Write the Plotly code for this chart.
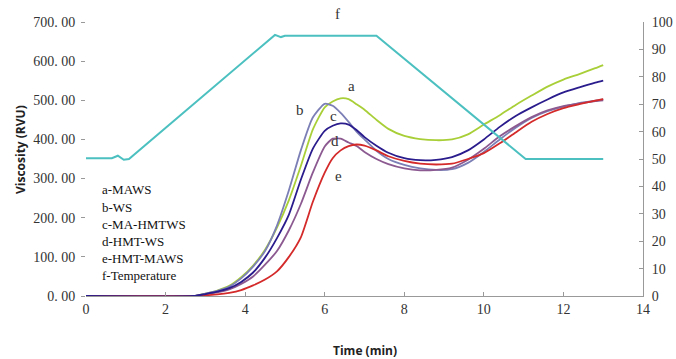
import plotly.graph_objects as go

# ---- data ----
time_min = [0, 2.7, 3.0, 3.3, 3.6, 3.9, 4.2, 4.5, 4.8, 5.1, 5.4, 5.7, 6.0, 6.2, 6.4, 6.6, 6.8,
            7.0, 7.3, 7.6, 8.0, 8.4, 8.8, 9.2, 9.6, 10.0, 10.4, 10.8, 11.2, 11.6, 12.0, 12.4, 12.8, 13.0]

visc_a_MAWS = [0, 0, 6, 14, 26, 48, 78, 118, 175, 245, 332, 425, 482, 497, 505, 503, 490,
               476, 450, 427, 409, 401, 398, 400, 413, 438, 462, 488, 512, 535, 553, 567, 582, 590]
visc_b_WS = [0, 0, 6, 13, 24, 45, 75, 115, 180, 270, 372, 456, 491, 486, 468, 445, 420,
             400, 371, 350, 335, 326, 322, 324, 340, 368, 400, 430, 455, 472, 484, 493, 499, 502]
visc_c_MA_HMTWS = [0, 0, 5, 11, 20, 36, 60, 98, 148, 208, 297, 376, 422, 435, 441, 438, 424,
                   406, 384, 366, 352, 347, 348, 355, 372, 400, 432, 460, 482, 502, 520, 533, 545, 550]
visc_d_HMT_WS = [0, 0, 4, 9, 17, 31, 50, 80, 115, 168, 235, 315, 382, 402, 402, 392, 383,
                 368, 350, 337, 326, 321, 322, 328, 348, 376, 408, 434, 457, 474, 485, 492, 498, 500]
visc_e_HMT_MAWS = [0, 0, 2, 4, 8, 15, 27, 42, 63, 100, 150, 240, 315, 352, 372, 383, 387,
                   384, 372, 357, 345, 338, 336, 338, 350, 365, 390, 418, 445, 465, 480, 490, 499, 503]

temp_time = [0, 0.65, 0.8, 0.95, 1.08, 4.75, 4.9, 5.0, 7.3, 11.05, 13.0]
temp_c = [50.3, 50.3, 51.2, 49.7, 50.0, 95.3, 94.5, 95.0, 95.0, 50.0, 50.0]

left_ticks = [0, 100, 200, 300, 400, 500, 600, 700]
left_tick_text = ["0. 00", "100. 00", "200. 00", "300. 00", "400. 00", "500. 00", "600. 00", "700. 00"]
right_ticks = [0, 10, 20, 30, 40, 50, 60, 70, 80, 90, 100]
x_ticks = [0, 2, 4, 6, 8, 10, 12, 14]

legend_lines = ["a-MAWS", "b-WS", "c-MA-HMTWS", "d-HMT-WS", "e-HMT-MAWS", "f-Temperature"]

curve_labels = ["a", "b", "c", "d", "e"]
label_x = [6.67, 5.39, 6.21, 6.27, 6.35]
label_y = [537, 475, 459, 396, 306]
temp_label = "f"
temp_label_x = 6.32
temp_label_y = 103  # on the temperature axis, just above the frame

# ---- figure ----
fig = go.Figure()

series = [
    ("a-MAWS", visc_a_MAWS, "#a9cf38"),
    ("b-WS", visc_b_WS, "#7b7fb5"),
    ("d-HMT-WS", visc_d_HMT_WS, "#8c5a90"),
    ("e-HMT-MAWS", visc_e_HMT_MAWS, "#d42a2a"),
    ("c-MA-HMTWS", visc_c_MA_HMTWS, "#2a1c8c"),
]
for name, vals, col in series:
    fig.add_trace(go.Scatter(x=time_min, y=vals, mode="lines", name=name,
                             line=dict(color=col, width=1.8, shape="spline", smoothing=0.6),
                             showlegend=False))

fig.add_trace(go.Scatter(x=temp_time, y=temp_c, mode="lines", name="f-Temperature",
                         line=dict(color="#4cc0c0", width=2), yaxis="y2", showlegend=False))

tick_font = dict(family="Liberation Serif", size=14, color="#333333")

fig.update_layout(
    width=676, height=359,
    margin=dict(l=86, r=33, t=22, b=63, autoexpand=False),
    paper_bgcolor="white", plot_bgcolor="white",
    xaxis=dict(range=[0, 14], tickvals=x_ticks, ticks="inside", ticklen=4, tickcolor="#999999",
               showline=True, linecolor="#999999", linewidth=1, showgrid=False, zeroline=False,
               tickfont=tick_font, automargin=False),
    yaxis=dict(range=[0, 700], tickvals=left_ticks, ticktext=left_tick_text, ticks="outside",
               ticklen=4, tickcolor="#999999", showline=False, showgrid=False, zeroline=False,
               tickfont=tick_font, ticklabelstandoff=3, automargin=False),
    yaxis2=dict(range=[0, 100], tickvals=right_ticks, overlaying="y", side="right",
                ticks="inside", ticklen=4, tickcolor="#999999", showline=True,
                linecolor="#999999", linewidth=1, showgrid=False, zeroline=False,
                tickfont=tick_font, ticklabelstandoff=5, automargin=False),
)

ann = []
for i, t in enumerate(legend_lines):
    ann.append(dict(text=t, xref="paper", yref="paper", x=(100 - 86) / 557,
                    y=(296 - (190 + 17.1 * i)) / 274, xanchor="left", yanchor="middle",
                    showarrow=False, font=dict(family="Liberation Serif", size=13, color="#111111")))
for lab, lx, ly in zip(curve_labels, label_x, label_y):
    ann.append(dict(text=lab, xref="x", yref="y", x=lx, y=ly, showarrow=False,
                    xanchor="center", yanchor="middle",
                    font=dict(family="Liberation Serif", size=15, color="#333333")))
ann.append(dict(text=temp_label, xref="x", yref="paper", x=temp_label_x,
                y=temp_label_y / 100, showarrow=False, xanchor="center", yanchor="middle",
                font=dict(family="Liberation Serif", size=15, color="#333333")))
ann.append(dict(text="<b>Viscosity (RVU)</b>", xref="paper", yref="paper",
                x=(20 - 86) / 557, y=(296 - 150) / 274, textangle=-90, showarrow=False,
                xanchor="center", yanchor="middle",
                font=dict(family="Open Sans", size=12, color="#222222")))
ann.append(dict(text="<b>Time (min)</b>", xref="paper", yref="paper",
                x=(365 - 86) / 557, y=(296 - 350) / 274, showarrow=False,
                xanchor="center", yanchor="middle",
                font=dict(family="Open Sans", size=12, color="#222222")))
fig.update_layout(annotations=ann)

fig.write_html("out.html", config={"displayModeBar": False},
               post_script="document.body.style.margin='0';document.body.style.overflow='hidden';")
